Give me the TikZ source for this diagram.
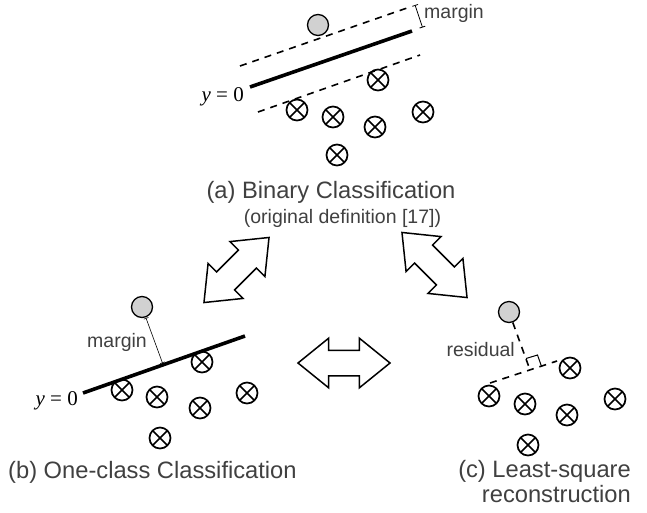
\documentclass[tikz,border=0pt]{standalone}
\usepackage{fontspec}
\setmainfont{Liberation Sans}
\newfontfamily\mathserif{Liberation Serif}
\usetikzlibrary{shapes.arrows,arrows.meta}
\definecolor{txt}{gray}{0.25}
\begin{document}
\begin{tikzpicture}[x=1pt,y=-1pt,
  cross/.style={circle,draw,line width=1.7pt,minimum size=21pt,inner sep=0pt,
    path picture={\draw[line width=1.7pt] (path picture bounding box.center) +(45:11pt) -- +(225:11pt) +(135:11pt) -- +(315:11pt);}},
  ball/.style={circle,draw,line width=1.3pt,fill=black!18,minimum size=21pt,inner sep=0pt},
  sepline/.style={line width=3.6pt},
  dashline/.style={line width=1.6pt,dash pattern=on 7pt off 6pt},
  dbl/.style={double arrow,draw,line width=1.5pt,minimum height=92pt,inner xsep=0pt,inner ysep=12pt,
    text height=0pt,text depth=0pt,text width=0pt,double arrow head extend=12pt,double arrow tip angle=78},
  captext/.style={text=txt,font=\fontsize{23.7}{24.5}\selectfont,inner sep=0pt},
  small/.style={text=txt,font=\fontsize{19.5}{22}\selectfont,inner sep=0pt},
  yzero/.style={font=\mathserif\fontsize{21}{24}\selectfont,inner sep=0pt,anchor=base east},
  gap/.style={line width=0.8pt,{Bar[width=6pt]}-{Bar[width=6pt]}},
]
\useasboundingbox (0,0) rectangle (647,512);

% ---------- (a) Binary classification ----------
\coordinate (a1) at (250,87);
\coordinate (a2) at (412,31);
\coordinate (au1) at (240,66);
\coordinate (au2) at (407,8);
\coordinate (al1) at (258,112);
\coordinate (al2) at (420,55);
\draw[sepline] (a1) -- (a2);
\draw[dashline] (au1) -- (au2);
\draw[dashline] (al1) -- (al2);
\node[ball] (ba) at (318,25) {};
\node[cross] (xa1) at (378,80) {};
\node[cross] (xa2) at (297,110) {};
\node[cross] (xa3) at (333,117) {};
\node[cross] (xa4) at (375,127) {};
\node[cross] (xa5) at (423,112) {};
\node[cross] (xa6) at (337,155) {};
\node[yzero] (ya) at (244,101) {\textit{y} = 0};
\coordinate (ma1) at (415,5);
\coordinate (ma2) at (422.5,27.5);
\draw[gap] (ma1) -- (ma2);
\node[small,anchor=base west] (mla) at (424,18) {margin};
\node[captext,anchor=base] (capa) at (331,198) {(a) Binary Classification};
\node[small,anchor=base] (capa2) at (342.5,223) {(original definition [17])};

% ---------- arrows ----------
\node[dbl,rotate=45] (arl) at (236.5,270) {};
\node[dbl,rotate=-45] (arr) at (434.5,265) {};
\node[dbl] (arm) at (344,363) {};

% ---------- (b) One-class ----------
\coordinate (b1) at (83,393);
\coordinate (b2) at (245,336);
\draw[sepline] (b1) -- (b2);
\node[ball] (bb) at (142,307) {};
\coordinate (mb1) at (146,318);
\coordinate (mb2) at (162.5,363);
\draw[line width=0.6pt,{Bar[width=5pt]}-{Bar[width=5pt]}] (mb1) -- (mb2);
\node[small,anchor=base east] (mlb) at (147,347) {margin};
\node[cross] (xb1) at (202,362) {};
\node[cross] (xb2) at (122,390) {};
\node[cross] (xb3) at (157,397) {};
\node[cross] (xb4) at (200,408) {};
\node[cross] (xb5) at (247,393) {};
\node[cross] (xb6) at (160,438) {};
\node[yzero] (yb) at (78,405) {\textit{y} = 0};
\node[captext,anchor=base west] (capb) at (8,478) {(b) One-class Classification};

% ---------- (c) Least-square ----------
\node[ball] (bc) at (509,312) {};
\coordinate (c1) at (490,383);
\coordinate (c2) at (557,361);
\coordinate (rf) at (530,370);
\draw[dashline] (c1) -- (c2);
\draw[dashline] (bc) -- (rf);
\coordinate (rq1) at (526,358.5);
\coordinate (rq2) at (537.5,355);
\coordinate (rq3) at (541.5,366.3);
\draw[line width=1pt] (rq1) -- (rq2) -- (rq3);
\node[small,anchor=base east] (rlc) at (515,356) {residual};
\node[cross] (xc1) at (570,368) {};
\node[cross] (xc2) at (489,396) {};
\node[cross] (xc3) at (525,404) {};
\node[cross] (xc4) at (567,415) {};
\node[cross] (xc5) at (615,399) {};
\node[cross] (xc6) at (528,445) {};
\node[captext,align=right,anchor=north east] (capc) at (631,460.5) {(c) Least-square\\reconstruction};
\end{tikzpicture}
\end{document}
